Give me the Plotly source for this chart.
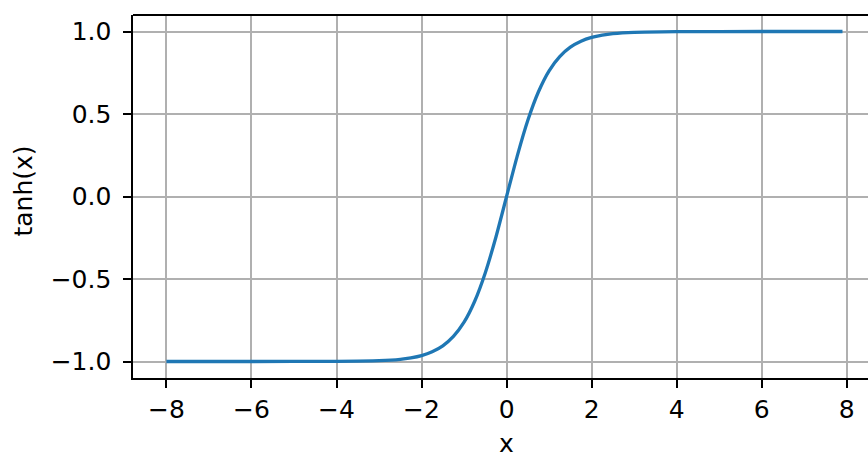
import plotly.graph_objects as go

# values
x_vals = [-8.0, -6.0, -4.0, -3.0, -2.5, -2.25, -2.0, -1.75, -1.5, -1.25, -1.0, -0.75, -0.5, -0.25,
          0.0, 0.25, 0.5, 0.75, 1.0, 1.25, 1.5, 1.75, 2.0, 2.25, 2.5, 3.0, 4.0, 6.0, 7.9]
y_vals = [-1.0, -1.0, -0.999, -0.995, -0.987, -0.978, -0.964, -0.941, -0.905, -0.848, -0.762, -0.635, -0.462, -0.245,
          0.0, 0.245, 0.462, 0.635, 0.762, 0.848, 0.905, 0.941, 0.964, 0.978, 0.987, 0.995, 0.999, 1.0, 1.0]

x_ticks = [-8, -6, -4, -2, 0, 2, 4, 6, 8]
x_tick_text = ["\u22128", "\u22126", "\u22124", "\u22122", "0", "2", "4", "6", "8"]
y_ticks = [-1.0, -0.5, 0.0, 0.5, 1.0]
y_tick_text = ["\u22121.0", "\u22120.5", "0.0", "0.5", "1.0"]
x_title = "x"
y_title = "tanh(x)"

FONT = "DejaVu Sans"
FS = 25

fig = go.Figure()
fig.add_trace(go.Scatter(x=x_vals, y=y_vals, mode="lines",
                         line=dict(color="#1f77b4", width=3.3, shape="spline", smoothing=0.6),
                         showlegend=False, hoverinfo="skip"))

axis_common = dict(showgrid=True, gridcolor="#b0b0b0", gridwidth=1.8,
                   showline=True, linecolor="black", linewidth=1.8,
                   ticks="outside", ticklen=7.7, tickwidth=1.8, tickcolor="black",
                   zeroline=False, automargin=False,
                   tickfont=dict(family=FONT, size=FS, color="black"))

fig.update_layout(
    width=868, height=455,
    margin=dict(l=133, r=0, t=15, b=77),
    paper_bgcolor="white", plot_bgcolor="white",
    font=dict(family=FONT, size=FS, color="black"),
    xaxis=dict(range=[-8.786, 8.5], tickvals=x_ticks, ticktext=x_tick_text, **axis_common),
    yaxis=dict(range=[-1.1, 1.1], tickvals=y_ticks, ticktext=y_tick_text,
               ticklabelstandoff=7, **axis_common),
)
fig.add_shape(type="line", xref="paper", yref="paper", x0=0, x1=1, y0=1, y1=1,
              line=dict(color="black", width=1.8))
fig.add_annotation(text=x_title, xref="x", yref="paper", x=0, y=0, yshift=-65,
                   xanchor="center", yanchor="middle", showarrow=False,
                   font=dict(family=FONT, size=FS, color="black"))
fig.add_annotation(text=y_title, xref="paper", yref="y", x=0, y=0.03, xshift=-109,
                   xanchor="center", yanchor="middle", textangle=-90, showarrow=False,
                   font=dict(family=FONT, size=FS, color="black"))

fig.write_html("out.html", config={"displayModeBar": False},
               post_script="document.body.style.margin='0';document.body.style.overflow='hidden';")
